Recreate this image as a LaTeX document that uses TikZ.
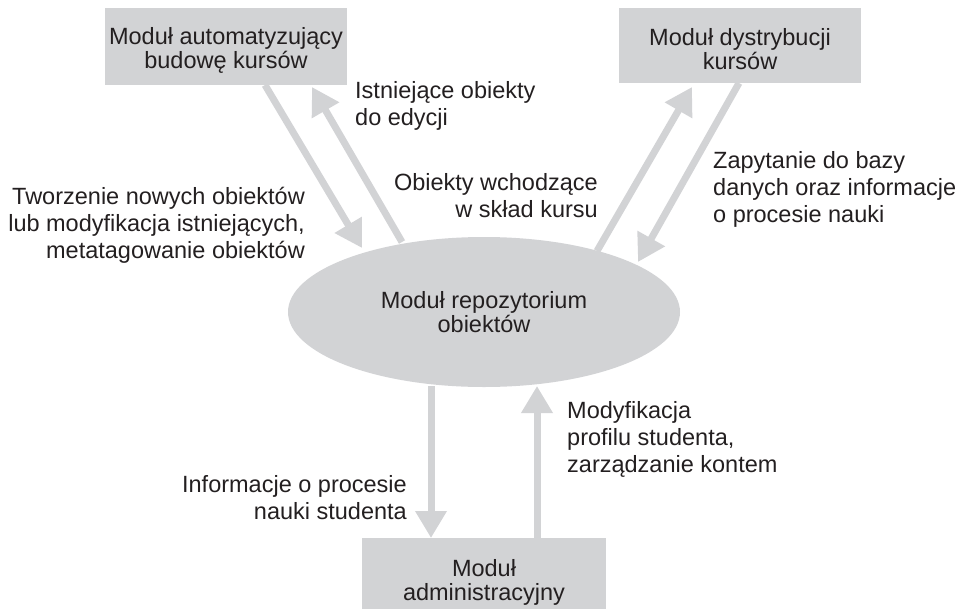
\documentclass[tikz,border=0pt]{standalone}
\usepackage{fontspec}
\setmainfont{Liberation Sans}
\usetikzlibrary{arrows.meta,shapes.geometric}
\definecolor{boxgray}{RGB}{210,211,213}
\definecolor{arrgray}{RGB}{210,211,213}
\definecolor{txt}{RGB}{35,31,32}
\begin{document}
\begin{tikzpicture}[x=1pt,y=-1pt,
  every node/.style={text=txt,font=\fontsize{23.5}{24}\selectfont},
  modbox/.style={fill=boxgray,draw=none,minimum width=242pt,inner sep=0pt,align=center},
  lbl/.style={inner sep=0pt,font=\fontsize{23.5}{27}\selectfont},
  flow/.style={draw=arrgray,line width=7pt,-{Triangle[length=27pt,width=30pt]}}]
\useasboundingbox (0,0) rectangle (968,608);
\node[modbox,minimum height=77pt] (tl) at (226,46.5) {\rule{0pt}{25pt}Moduł automatyzujący\\budowę kursów};
\node[modbox,minimum height=75pt] (tr) at (740,45.5) {\rule{0pt}{25pt}Moduł dystrybucji\\kursów};
\node[modbox,minimum width=244pt,minimum height=88pt] (bot) at (484,582) {Moduł\\administracyjny};
\node[ellipse,fill=boxgray,minimum width=392pt,minimum height=150pt,inner sep=0pt,align=center] (rep) at (484,312) {Moduł repozytorium\\obiektów};
% arrow endpoints
\coordinate (a1s) at (265,85);  \coordinate (a1e) at (362,248);
\coordinate (a2s) at (402,242); \coordinate (a2e) at (312,87);
\coordinate (a3s) at (597,251); \coordinate (a3e) at (692,87);
\coordinate (a4s) at (739,83);  \coordinate (a4e) at (638,262);
\coordinate (a5s) at (431,386); \coordinate (a5e) at (431,538);
\coordinate (a6s) at (537,538); \coordinate (a6e) at (537,386);
\draw[flow] (a1s) -- (a1e);
\draw[flow] (a2s) -- (a2e);
\draw[flow] (a3s) -- (a3e);
\draw[flow] (a4s) -- (a4e);
\draw[flow] (a5s) -- (a5e);
\draw[flow] (a6s) -- (a6e);
% labels
\node[lbl,anchor=north west,align=left] (l1) at (355,81) {Istniejące obiekty\\do edycji};
\node[lbl,anchor=north east,align=right] (l2) at (305,187) {Tworzenie nowych obiektów\\lub modyfikacja istniejących,\\metatagowanie obiektów};
\node[lbl,anchor=north west,align=left] (l4) at (713,151) {Zapytanie do bazy\\danych oraz informacje\\o procesie nauki};
\node[lbl,anchor=north east,align=right] (l3) at (598,173) {Obiekty wchodzące\\w skład kursu};
\node[lbl,anchor=north west,align=left] (l5) at (567,401) {Modyfikacja\\profilu studenta,\\zarządzanie kontem};
\node[lbl,anchor=north east,align=right] (l6) at (407,475) {Informacje o procesie\\nauki studenta};
\end{tikzpicture}
\end{document}
